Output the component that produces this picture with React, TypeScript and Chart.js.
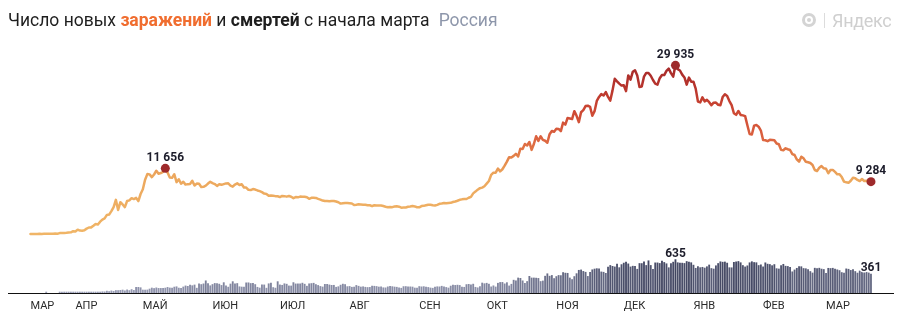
import React, { useEffect, useRef } from "react";
import { Chart, registerables } from "chart.js";
Chart.register(...registerables);

// Daily new infections, Russia, 12 Mar 2020 – 21 Mar 2021
const casesMar20 = [6, 11, 14, 4, 30, 21, 33, 52, 54, 53, 61, 71, 57, 163, 182, 196, 228, 270, 302, 501];
const casesApr20 = [440, 771, 601, 582, 658, 954, 1154, 1175, 1459, 1786, 1667, 2186, 2558, 2774, 3388, 3448, 4070, 4785, 6060, 4268, 5642, 5236, 4774, 5849, 5966, 6361, 6198, 6411, 5841, 7099];
const casesMay20 = [7933, 9623, 10633, 10581, 10102, 10559, 11231, 10699, 10817, 11012, 11656, 10899, 10028, 9974, 10598, 9200, 9709, 8926, 9263, 8764, 8849, 8894, 9434, 8599, 8946, 8915, 8338, 8371, 8572, 8952, 9268];
const casesJun20 = [9035, 8863, 8536, 8831, 8726, 8855, 8984, 8985, 8595, 8404, 8779, 8987, 8706, 8835, 8246, 8248, 7843, 7790, 7972, 7889, 7728, 7600, 7425, 7176, 7113, 6800, 6852, 6791, 6719, 6693];
const casesJul20 = [6556, 6760, 6718, 6632, 6736, 6611, 6368, 6562, 6509, 6635, 6611, 6615, 6537, 6248, 6422, 6428, 6406, 6234, 6109, 5940, 5842, 5862, 5811, 5848, 5871, 5765, 5635, 5395, 5475, 5509, 5482];
const casesAug20 = [5462, 5427, 5159, 5204, 5267, 5241, 5212, 5189, 5118, 5102, 4945, 5102, 5057, 5065, 5061, 4969, 4839, 4748, 4790, 4767, 4870, 4921, 4852, 4676, 4696, 4711, 4829, 4880, 4980, 4897, 4747];
const casesSep20 = [4729, 4952, 4995, 5110, 5205, 5185, 5099, 5048, 5172, 5363, 5406, 5488, 5449, 5509, 5529, 5670, 5762, 5905, 6065, 6148, 6196, 6215, 6431, 6595, 7212, 7523, 7867, 8135, 8232, 8481];
const casesOct20 = [8945, 9412, 10499, 10888, 10888, 11615, 11115, 11493, 12126, 12846, 13634, 13592, 13868, 14231, 13754, 15150, 15099, 15982, 15700, 16319, 14922, 15971, 17340, 16521, 17347, 16710, 16550, 16202, 17717, 18283, 18140];
const casesNov20 = [18665, 18648, 18257, 19768, 19404, 20582, 20498, 20396, 21798, 20977, 19851, 21608, 21983, 22702, 22778, 22572, 20977, 21798, 23610, 24318, 24822, 24581, 25173, 24326, 23675, 25487, 27543, 27100, 26683, 26338];
const casesDec20 = [26402, 25345, 28145, 27403, 28782, 29039, 28137, 26097, 26190, 27927, 28585, 28585, 28080, 27328, 26689, 26509, 27656, 28214, 28209, 28948, 29350, 28552, 27936, 29935, 29258, 29018, 28284, 27787, 26513, 27747, 27039];
const casesJan21 = [27029, 25800, 23500, 23351, 24246, 23541, 23800, 23400, 22851, 23310, 23315, 22934, 22850, 24300, 24800, 24500, 23590, 22860, 21430, 21150, 21830, 21130, 21050, 20920, 19290, 17750, 17650, 19240, 19350, 19050, 18360];
const casesFeb21 = [16690, 16640, 16470, 16710, 16690, 16630, 16050, 15920, 14930, 14860, 15210, 15040, 14910, 14190, 14020, 13230, 12830, 13720, 13430, 12830, 12740, 12600, 12250, 11360, 11180, 11750, 12060, 11660];
const casesMar21 = [11570, 10770, 11360, 11380, 11020, 10600, 10600, 10100, 9290, 9170, 9080, 9450, 10000, 9900, 9590, 9390, 9760, 9410, 9450, 9300, 9284];

// Daily deaths, same days
const deathsMar20 = [0, 0, 0, 0, 0, 0, 0, 1, 0, 0, 0, 0, 0, 1, 1, 1, 1, 4, 1, 8];
const deathsApr20 = [2, 8, 2, 9, 2, 2, 11, 16, 13, 13, 12, 18, 24, 22, 36, 28, 41, 33, 48, 47, 51, 57, 42, 60, 47, 66, 50, 108, 108, 101];
const deathsMay20 = [57, 56, 58, 76, 95, 86, 98, 88, 88, 88, 94, 107, 96, 93, 113, 119, 94, 91, 115, 135, 127, 150, 139, 153, 92, 174, 161, 174, 232, 181, 138];
const deathsJun20 = [162, 182, 178, 169, 144, 197, 134, 112, 171, 216, 174, 181, 119, 114, 113, 193, 194, 181, 182, 161, 109, 95, 153, 154, 92, 176, 188, 104, 93, 216];
const deathsJul20 = [154, 147, 176, 168, 135, 134, 198, 173, 174, 174, 188, 168, 130, 175, 180, 186, 161, 144, 125, 115, 165, 165, 154, 146, 147, 110, 120, 150, 169, 161, 121];
const deathsAug20 = [125, 110, 113, 144, 129, 114, 119, 110, 105, 107, 130, 129, 124, 114, 117, 100, 98, 117, 129, 121, 114, 110, 98, 91, 122, 123, 119, 117, 114, 95, 92];
const deathsSep20 = [123, 117, 121, 112, 106, 96, 91, 112, 119, 117, 129, 119, 106, 95, 132, 150, 145, 150, 144, 113, 109, 160, 165, 154, 169, 109, 99, 120, 190, 177];
const deathsOct20 = [186, 169, 117, 137, 115, 186, 201, 202, 174, 197, 135, 167, 244, 232, 286, 279, 232, 184, 219, 317, 286, 286, 283, 278, 219, 229, 320, 366, 320, 334, 275];
const deathsNov20 = [313, 334, 331, 389, 378, 375, 286, 256, 313, 368, 432, 439, 411, 395, 316, 395, 442, 456, 463, 461, 401, 395, 374, 491, 524, 507, 496, 550, 482, 540];
const deathsDec20 = [569, 589, 554, 496, 510, 508, 452, 561, 560, 592, 524, 613, 524, 450, 573, 573, 562, 609, 581, 556, 481, 561, 587, 635, 576, 567, 568, 562, 599, 589, 576];
const deathsJan21 = [530, 470, 502, 482, 489, 475, 500, 533, 466, 456, 518, 561, 594, 586, 590, 569, 481, 480, 583, 592, 600, 576, 523, 496, 517, 575, 595, 580, 576, 523, 536];
const deathsFeb21 = [497, 574, 549, 542, 520, 541, 463, 457, 521, 546, 510, 505, 488, 403, 439, 470, 502, 500, 466, 462, 447, 409, 381, 472, 464, 472, 455, 447];
const deathsMar21 = [373, 470, 466, 471, 454, 441, 427, 389, 378, 459, 452, 430, 446, 409, 379, 419, 403, 394, 395, 382, 361];

const cases = [...casesMar20, ...casesApr20, ...casesMay20, ...casesJun20, ...casesJul20, ...casesAug20, ...casesSep20, ...casesOct20, ...casesNov20, ...casesDec20, ...casesJan21, ...casesFeb21, ...casesMar21];
const deaths = [...deathsMar20, ...deathsApr20, ...deathsMay20, ...deathsJun20, ...deathsJul20, ...deathsAug20, ...deathsSep20, ...deathsOct20, ...deathsNov20, ...deathsDec20, ...deathsJan21, ...deathsFeb21, ...deathsMar21];

// Day index counted from 1 March 2020
const FIRST_DAY = 11; // 12 March 2020
const monthLabels = ["МАР", "АПР", "МАЙ", "ИЮН", "ИЮЛ", "АВГ", "СЕН", "ОКТ", "НОЯ", "ДЕК", "ЯНВ", "ФЕВ", "МАР"];
const monthTickDays = [11, 31, 61, 92, 122, 153, 184, 214, 245, 275, 306, 337, 365];

const fmt = (v: number) => String(v).replace(/\B(?=(\d{3})+(?!\d))/g, " ");

function hexToRgb(h: string) {
  const n = parseInt(h.slice(1), 16);
  return [(n >> 16) & 255, (n >> 8) & 255, n & 255];
}
function mix(a: string, b: string, t: number) {
  const A = hexToRgb(a), B = hexToRgb(b);
  const c = A.map((v, i) => Math.round(v + (B[i] - v) * t));
  return `rgb(${c[0]},${c[1]},${c[2]})`;
}

const lineStops: [number, string][] = [
  [0, "#f0b567"],
  [10500, "#eca75d"],
  [13000, "#e5884b"],
  [17000, "#dc6340"],
  [22000, "#cc4733"],
  [26000, "#b8352d"],
  [30000, "#a52a2a"],
];

export default function App() {
  const ref = useRef<HTMLCanvasElement | null>(null);

  useEffect(() => {
    if (!ref.current) return;
    const maxIdx = cases.indexOf(Math.max(...cases));
    const firstWave = cases.slice(0, 150);
    const wave1Idx = firstWave.indexOf(Math.max(...firstWave));
    const lastIdx = cases.length - 1;
    const marked = [wave1Idx, maxIdx, lastIdx];
    const dMaxIdx = deaths.indexOf(Math.max(...deaths));
    const dLastIdx = deaths.length - 1;
    const dMax = Math.max(...deaths);

    const labelPlugin = {
      id: "valueLabels",
      afterDatasetsDraw(chart: any) {
        const ctx = chart.ctx;
        const lineMeta = chart.getDatasetMeta(1);
        const barMeta = chart.getDatasetMeta(0);
        ctx.save();
        ctx.font = "bold 12px Roboto";
        ctx.textAlign = "center";
        ctx.textBaseline = "alphabetic";
        ctx.lineJoin = "round";
        const draw = (t: string, x: number, y: number) => {
          ctx.strokeStyle = "rgba(255,255,255,0.95)";
          ctx.lineWidth = 3;
          ctx.strokeText(t, x, y);
          ctx.fillStyle = "#1d1d2b";
          ctx.fillText(t, x, y);
        };
        marked.forEach((i) => {
          const el = lineMeta.data[i];
          draw(fmt(cases[i]), el.x, el.y - 7.5);
        });
        [dMaxIdx, dLastIdx].forEach((i) => {
          const el = barMeta.data[i];
          draw(fmt(deaths[i]), el.x, el.y - 3);
        });
        ctx.restore();
      },
    };

    const chart = new Chart(ref.current, {
      type: "bar",
      data: {
        datasets: [
          {
            type: "bar",
            data: deaths.map((v, i) => ({ x: FIRST_DAY + i, y: v > 0 ? v : null })),
            xAxisID: "x",
            yAxisID: "yd",
            backgroundColor: (c: any) => {
              const v = c.raw && c.raw.y ? c.raw.y : 0;
              return mix("#9ea2ba", "#40445f", Math.min(1, v / dMax));
            },
            borderWidth: 0,
            barThickness: 1.2,
            minBarLength: 1,
            order: 2,
          } as any,
          {
            type: "line",
            data: cases.map((v, i) => ({ x: FIRST_DAY + i, y: v })),
            xAxisID: "x",
            yAxisID: "yc",
            borderWidth: 2.5,
            borderJoinStyle: "round",
            borderCapStyle: "round",
            tension: 0,
            clip: false,
            borderColor: (c: any) => {
              const ch = c.chart;
              const ys = ch.scales && ch.scales.yc;
              if (!ch.chartArea || !ys) return "#e5884b";
              const p0 = ys.getPixelForValue(0);
              const p1 = ys.getPixelForValue(30000);
              const g = ch.ctx.createLinearGradient(0, p0, 0, p1);
              lineStops.forEach(([v, col]) => g.addColorStop(v / 30000, col));
              return g;
            },
            pointRadius: (c: any) => (marked.includes(c.dataIndex) ? 4.5 : 0),
            pointHoverRadius: 0,
            pointBackgroundColor: "#9e2a2b",
            pointBorderWidth: 0,
            order: 1,
          } as any,
        ],
      },
      options: {
        responsive: false,
        animation: false,
        events: [],
        layout: { padding: { left: 8, right: 7, top: 40, bottom: 0 } },
        plugins: { legend: { display: false }, tooltip: { enabled: false } },
        scales: {
          x: {
            type: "linear",
            min: 1,
            max: 394.8,
            offset: false,
            grid: { display: false, drawTicks: false },
            border: { display: true, color: "#111", width: 1 },
            afterBuildTicks: (scale: any) => {
              scale.ticks = monthTickDays.map((d) => ({ value: d }));
            },
            afterFit: (scale: any) => {
              scale.height = 22;
            },
            ticks: {
              autoSkip: false,
              maxRotation: 0,
              align: "start",
              padding: 7,
              color: "#2a2a2a",
              font: { family: "Roboto", size: 11 },
              callback: (_v: any, i: number) => monthLabels[i],
            },
          },
          yc: { type: "linear", display: false, min: -10470, max: 34428 },
          yd: { type: "linear", display: false, min: 0, max: 4810 },
        },
      } as any,
      plugins: [labelPlugin],
    });
    return () => chart.destroy();
  }, []);

  return (
    <div style={{ position: "absolute", left: 0, top: 0, width: 900, height: 315, background: "#fff", fontFamily: "Roboto, sans-serif", overflow: "hidden" }}>
      <canvas ref={ref} width={900} height={315} style={{ position: "absolute", left: 0, top: 0 }} />
      <div style={{ position: "absolute", left: 8, top: 8, fontSize: 17.5, lineHeight: "24px", color: "#1e1e1e", whiteSpace: "nowrap" }}>
        Число новых <b style={{ color: "#f06d2f", fontWeight: 700 }}>заражений</b> и <b style={{ fontWeight: 700 }}>смертей</b> с начала марта
        <span style={{ color: "#8e97ab", marginLeft: 9 }}>Россия</span>
      </div>
      <div style={{ position: "absolute", left: 802, top: 8, display: "flex", alignItems: "center", height: 24, whiteSpace: "nowrap" }}>
        <div style={{ width: 8, height: 8, borderRadius: "50%", border: "3px solid #d4d4d4", background: "#fff", position: "relative" }}>
          <div style={{ position: "absolute", left: 2, top: 2, width: 4, height: 4, borderRadius: "50%", background: "#d4d4d4" }} />
        </div>
        <div style={{ width: 1, height: 15, background: "#dcdcdc", marginLeft: 8, marginRight: 7 }} />
        <span style={{ fontSize: 18, letterSpacing: -0.3, color: "#cfcfcf" }}>Яндекс</span>
      </div>
    </div>
  );
}
